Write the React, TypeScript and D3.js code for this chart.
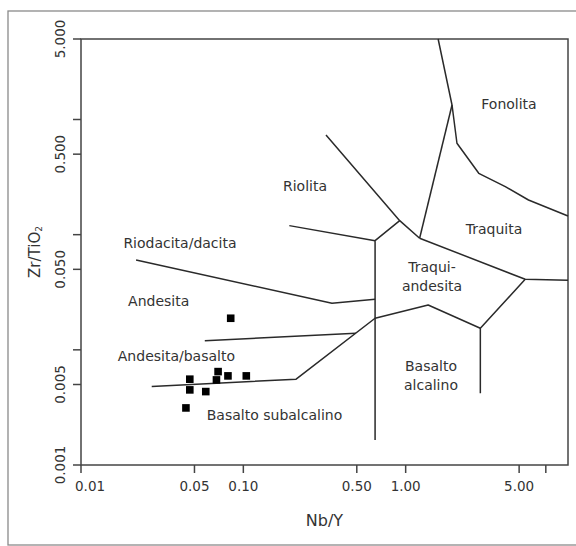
import React from "react";
import * as d3 from "d3";

// Nb/Y vs Zr/TiO2 classification diagram
const X_DOMAIN: [number, number] = [0.01, 10];
const Y_DOMAIN: [number, number] = [0.001, 5];

const xTickValues = [0.01, 0.05, 0.1, 0.5, 1, 5];
const xTickLabels = ["0.01", "0.05", "0.10", "0.50", "1.00", "5.00"];
const xMinorTicks = [7.3];

const yTickValues = [5, 0.5, 0.05, 0.005, 0.001];
const yTickLabels = ["5.000", "0.500", "0.050", "0.005", "0.001"];
const yMinorTicks = [1, 0.1, 0.01];

// Field boundaries, each as a polyline of [Nb/Y, Zr/TiO2]
const phonoliteBoundary: [number, number][] = [
  [1.585, 5], [1.93, 1.337], [2.07, 0.622], [2.82, 0.341], [4.11, 0.261], [5.71, 0.2], [10, 0.1454],
];
const comenditeTrachyte: [number, number][] = [[1.93, 1.337], [1.219, 0.0931]];
const rhyoliteUpper: [number, number][] = [[0.323, 0.734], [0.919, 0.1323], [1.219, 0.0931]];
const rhyoliteJunction: [number, number][] = [[0.919, 0.1323], [0.648, 0.0887], [0.648, 0.00165]];
const rhyoliteRhyodacite: [number, number][] = [[0.192, 0.1198], [0.648, 0.0887]];
const trachyteTrachyandesite: [number, number][] = [[1.219, 0.0931], [5.45, 0.041], [10, 0.0402]];
const alkaliBasaltEast: [number, number][] = [[5.45, 0.041], [2.884, 0.0154], [2.884, 0.0042]];
const trachyandesiteBase: [number, number][] = [
  [2.884, 0.0154], [1.376, 0.0245], [0.648, 0.0188], [0.2114, 0.00556], [0.02727, 0.0048],
];
const andesiteBasalt: [number, number][] = [[0.0579, 0.012], [0.4935, 0.01394]];
const rhyodaciteAndesite: [number, number][] = [[0.02184, 0.0603], [0.3516, 0.0254], [0.648, 0.0275]];

const boundaries = [
  phonoliteBoundary, comenditeTrachyte, rhyoliteUpper, rhyoliteJunction, rhyoliteRhyodacite,
  trachyteTrachyandesite, alkaliBasaltEast, trachyandesiteBase, andesiteBasalt, rhyodaciteAndesite,
];

// Samples
const sampleNbY = [0.0836, 0.0468, 0.0468, 0.0587, 0.0699, 0.0683, 0.0804, 0.1043, 0.0443];
const sampleZrTiO2 = [0.0188, 0.00556, 0.00449, 0.00434, 0.00647, 0.00548, 0.00594, 0.00594, 0.00313];

// Field names: [lines, Nb/Y, Zr/TiO2] (anchor of the first line's baseline)
const fieldNames: [string[], number, number][] = [
  [["Fonolita"], 4.33, 1.234],
  [["Riolita"], 0.2398, 0.2394],
  [["Traquita"], 3.5, 0.1014],
  [["Traqui-", "andesita"], 1.453, 0.0474],
  [["Basalto", "alcalino"], 1.432, 0.00655],
  [["Basalto subalcalino"], 0.1556, 0.00246],
  [["Riodacita/dacita"], 0.0407, 0.0766],
  [["Andesita"], 0.0301, 0.024],
  [["Andesita/basalto"], 0.0387, 0.008],
];

const FONT = "'DejaVu Sans', Verdana, sans-serif";
const INK = "#333";

export default function App() {
  const left = 81, right = 568, top = 39, bottom = 465;
  const x = d3.scaleLog().domain(X_DOMAIN).range([left, right]);
  const y = d3.scaleLog().domain(Y_DOMAIN).range([bottom, top]);
  const line = d3.line<[number, number]>().x((d) => x(d[0])).y((d) => y(d[1]));
  const tick = 8;

  return (
    <svg
      width={576}
      height={546}
      style={{ position: "absolute", left: 0, top: 0, background: "#fff" }}
      fontFamily={FONT}
    >
      <rect x={8} y={11} width={600} height={534} fill="none" stroke="#8a8a8a" strokeWidth={1.3} />

      {/* plot frame */}
      <rect x={left} y={top} width={right - left} height={bottom - top} fill="none" stroke="#444" strokeWidth={1.5} />

      {/* x axis ticks */}
      {[...xTickValues, ...xMinorTicks].map((v, i) => (
        <line key={"xt" + i} x1={x(v)} x2={x(v)} y1={bottom} y2={bottom + tick} stroke="#444" strokeWidth={1.5} />
      ))}
      {xTickValues.map((v, i) => (
        <text
          key={"xl" + i}
          x={i === 0 ? x(v) - 6 : x(v)}
          y={491}
          textAnchor={i === 0 ? "start" : "middle"}
          fontSize={13.5}
          fill={INK}
        >
          {xTickLabels[i]}
        </text>
      ))}

      {/* y axis ticks */}
      {[...yTickValues, ...yMinorTicks].map((v, i) => (
        <line key={"yt" + i} x1={left - tick} x2={left} y1={y(v)} y2={y(v)} stroke="#444" strokeWidth={1.5} />
      ))}
      {yTickValues.map((v, i) => (
        <text
          key={"yl" + i}
          transform={`translate(65,${y(v)}) rotate(-90)`}
          textAnchor="middle"
          fontSize={13.5}
          fill={INK}
        >
          {yTickLabels[i]}
        </text>
      ))}

      {/* axis titles */}
      <text x={(left + right) / 2} y={526} textAnchor="middle" fontSize={16} fill={INK}>
        Nb/Y
      </text>
      <text transform={`translate(40,${(top + bottom) / 2}) rotate(-90)`} textAnchor="middle" fontSize={15} fill={INK}>
        Zr/TiO<tspan fontSize={9} dy={2}>2</tspan>
      </text>

      {/* field boundaries */}
      {boundaries.map((b, i) => (
        <path key={"b" + i} d={line(b) || ""} fill="none" stroke="#2a2a2a" strokeWidth={1.5} strokeLinejoin="round" />
      ))}

      {/* field names */}
      {fieldNames.map(([lines, nx, ny], i) => (
        <text key={"f" + i} x={x(nx)} y={y(ny)} textAnchor="middle" fontSize={14} fill={INK}>
          {lines.map((t, j) => (
            <tspan key={j} x={x(nx)} dy={j === 0 ? 0 : 19}>
              {t}
            </tspan>
          ))}
        </text>
      ))}

      {/* samples */}
      {sampleNbY.map((v, i) => (
        <rect
          key={"s" + i}
          x={x(v) - 3.8}
          y={y(sampleZrTiO2[i]) - 3.8}
          width={7.6}
          height={7.6}
          fill="#000"
        />
      ))}
    </svg>
  );
}
